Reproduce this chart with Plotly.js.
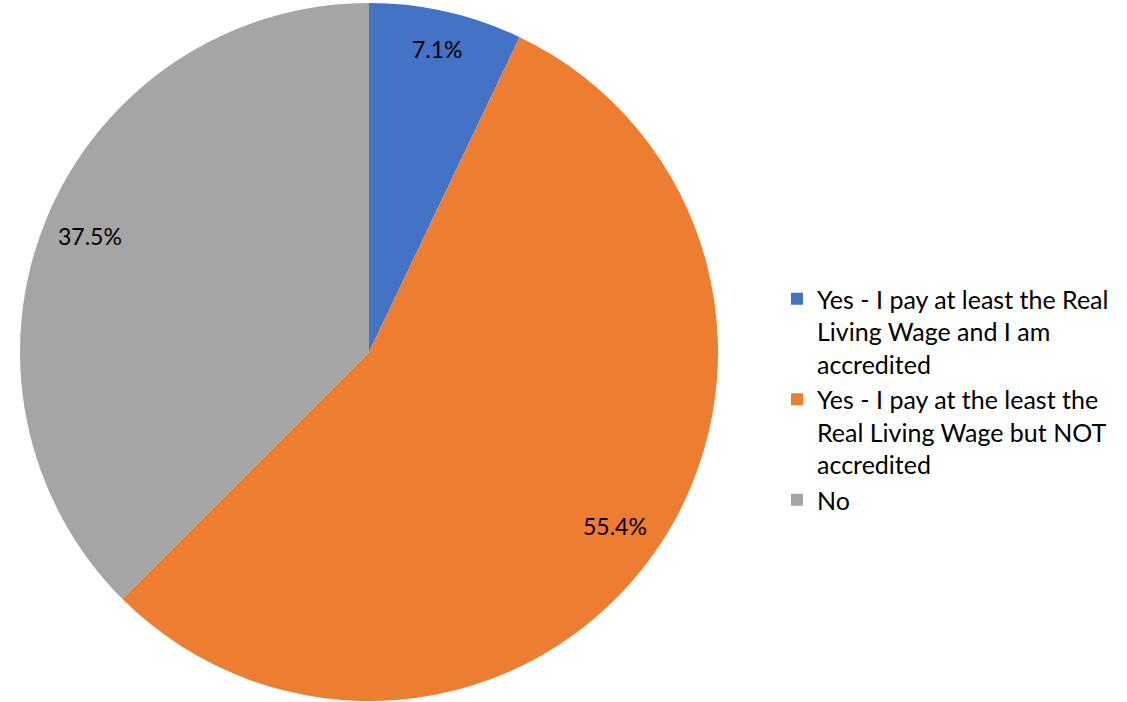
<!DOCTYPE html>
<html>
<head>
<meta charset="utf-8">
<script src="https://cdn.plot.ly/plotly-3.0.1.min.js"></script>
<style>html,body{margin:0;padding:0;background:#fff;}#chart{width:1127px;height:702px;}</style>
</head>
<body>
<div id="chart"></div>
<script>
const categories = [
  "Yes - I pay at least the Real<br>Living Wage and I am<br>accredited",
  "Yes - I pay at the least the<br>Real Living Wage but NOT<br>accredited",
  "No"
];
const values = [7.1, 55.4, 37.5];
const colors = ["#4472C4", "#ED7D31", "#A5A5A5"];

const W = 1127, H = 702;
const cx = 369, cy = 352, R = 349;
const domX = [(cx - R) / W, (cx + R) / W];
const domY = [1 - (cy + R) / H, 1 - (cy - R) / H];

// label annotations placed along each slice's mid-angle, from the data values
const total = values.reduce((a, b) => a + b, 0);
let cum = 0;
const annotations = values.map((v, i) => {
  const mid = (cum + v / 2) / total * 2 * Math.PI;
  cum += v;
  const rr = (i === 0 ? 0.89 : 0.865) * R;
  const px = cx + rr * Math.sin(mid);
  const py = cy - rr * Math.cos(mid);
  return {
    x: px / W, y: 1 - py / H, xref: 'paper', yref: 'paper',
    xanchor: 'center', yanchor: 'middle',
    text: v.toFixed(1) + '%', showarrow: false,
    font: {size: 23, color: '#000000', family: 'Lato, sans-serif'}
  };
});

Plotly.newPlot('chart', [{
  type: 'pie',
  labels: categories,
  values: values,
  sort: false,
  direction: 'clockwise',
  rotation: 0,
  marker: {colors: colors, line: {width: 0}},
  textinfo: 'none',
  domain: {x: domX, y: domY},
  hoverinfo: 'label+percent'
}], {
  width: W, height: H,
  margin: {l: 0, r: 0, t: 0, b: 0},
  paper_bgcolor: '#ffffff',
  showlegend: true,
  font: {family: 'Lato, sans-serif', color: '#000000'},
  legend: {
    x: 777 / W, xanchor: 'left',
    y: 1 - 276 / H, yanchor: 'top',
    valign: 'top',
    font: {size: 25, color: '#000000', family: 'Lato, sans-serif'},
    itemwidth: 30,
    tracegroupgap: 0
  },
  annotations: annotations
}, {displayModeBar: false, staticPlot: true});
</script>
</body>
</html>
